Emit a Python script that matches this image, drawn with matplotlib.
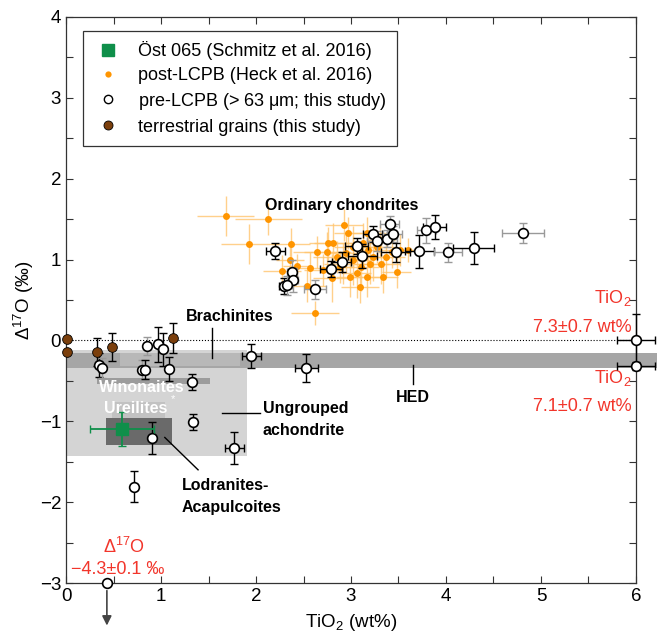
import matplotlib
matplotlib.use('Agg')
import matplotlib.pyplot as plt
from matplotlib.patches import Rectangle
from matplotlib.lines import Line2D

plt.rcParams['font.family'] = ['Liberation Sans', 'DejaVu Sans']
plt.rcParams['mathtext.default'] = 'regular'

# --- data ---
ost_x, ost_y, ost_xerr, ost_yerr = 0.59, -1.09, 0.34, 0.21

terr_x = [0.01, 0.01, 0.33, 0.48, 1.13]
terr_y = [0.02, -0.14, -0.14, -0.08, 0.03]
terr_yerr = [0.0, 0.0, 0.17, 0.17, 0.18]

post_x = [1.68, 2.13, 1.93, 2.37, 2.36, 2.27, 2.43, 2.54, 2.64, 2.57, 2.62, 2.70, 2.76,
          2.93, 2.97, 2.81, 2.75, 2.80, 2.88, 2.95, 3.02, 3.06, 3.09, 3.17, 3.20, 3.23,
          3.34, 3.32, 3.37, 3.48, 3.52, 3.60, 3.13, 3.18, 3.27, 3.10, 2.99, 2.92, 3.31,
          3.17, 2.85, 3.43, 3.02]
post_y = [1.54, 1.50, 1.19, 1.19, 0.99, 0.86, 0.92, 0.67, 1.09, 0.89, 0.34, 0.87, 1.20,
          1.43, 1.33, 1.20, 1.09, 0.77, 0.91, 1.08, 0.99, 0.83, 0.66, 0.79, 0.95, 1.03,
          0.79, 0.95, 1.03, 0.85, 1.12, 1.12, 1.20, 1.12, 1.16, 0.91, 0.79, 0.95, 1.24,
          1.33, 1.03, 1.09, 1.16]
post_xerr = [0.3, 0.35, 0.3, 0.2, 0.15, 0.2, 0.15, 0.2, 0.25, 0.2, 0.25, 0.2, 0.2,
             0.2, 0.15, 0.2, 0.25, 0.2, 0.15, 0.2, 0.2, 0.15, 0.2, 0.15, 0.2, 0.2,
             0.15, 0.2, 0.2, 0.15, 0.2, 0.15, 0.2, 0.15, 0.2, 0.2, 0.15, 0.2, 0.15,
             0.2, 0.25, 0.15, 0.2]
post_yerr = [0.25, 0.2, 0.25, 0.2, 0.2, 0.2, 0.15, 0.2, 0.2, 0.2, 0.15, 0.2, 0.2,
             0.2, 0.2, 0.25, 0.25, 0.3, 0.2, 0.25, 0.3, 0.3, 0.2, 0.25, 0.25, 0.3,
             0.2, 0.25, 0.25, 0.2, 0.2, 0.15, 0.25, 0.2, 0.2, 0.3, 0.25, 0.25, 0.2,
             0.2, 0.2, 0.2, 0.25]

pre_x = [0.85, 0.97, 1.02, 0.35, 0.38, 0.80, 0.83, 1.08, 1.95, 2.53, 1.33, 1.34, 0.91,
         1.77, 0.72, 6.00, 6.00,
         2.20, 2.38, 2.39, 2.29, 2.33, 2.62, 2.79, 2.90, 3.06, 3.12, 3.23, 3.27, 3.38,
         3.44, 3.41, 3.47, 3.72, 3.79, 3.88, 4.02, 4.29, 4.81]
pre_y = [-0.07, -0.05, -0.11, -0.30, -0.34, -0.36, -0.36, -0.35, -0.19, -0.34, -0.51,
         -1.01, -1.21, -1.33, -1.81, 0.00, -0.32,
         1.11, 0.85, 0.75, 0.67, 0.68, 0.63, 0.88, 0.97, 1.17, 1.04, 1.32, 1.23, 1.26,
         1.32, 1.44, 1.09, 1.10, 1.36, 1.40, 1.09, 1.14, 1.33]
pre_xerr = [0.03, 0.03, 0.03, 0.03, 0.03, 0.03, 0.03, 0.03, 0.10, 0.12, 0.03, 0.03, 0.03,
            0.10, 0.03, 0.20, 0.20,
            0.10, 0.05, 0.05, 0.05, 0.05, 0.12, 0.12, 0.10, 0.12, 0.15, 0.10, 0.10, 0.10,
            0.10, 0.10, 0.15, 0.15, 0.10, 0.12, 0.15, 0.22, 0.22]
pre_yerr = [0.11, 0.22, 0.20, 0.15, 0.12, 0.12, 0.12, 0.15, 0.15, 0.17, 0.10, 0.10, 0.20,
            0.20, 0.19, 0.33, 0.05,
            0.10, 0.15, 0.15, 0.10, 0.12, 0.12, 0.10, 0.12, 0.10, 0.15, 0.10, 0.12, 0.10,
            0.10, 0.10, 0.12, 0.20, 0.15, 0.15, 0.12, 0.20, 0.12]
pre_ecol = ['#999999', 'k', 'k', 'k', '#999999', '#999999', 'k', 'k', 'k', 'k', 'k', 'k', 'k',
            'k', 'k', 'k', 'k',
            'k', '#999999', '#999999', 'k', '#999999', '#999999', 'k', 'k', 'k', 'k', 'k',
            '#999999', '#999999', '#999999', '#999999', 'k', 'k', '#999999', 'k', '#999999',
            'k', '#999999']

low_x, low_y = 0.43, -3.0   # -4.3 permil, off scale

# group fields: (x0, x1, y0, y1, colour)
hed_box = (0.0, 6.22, -0.16, -0.34, '#a6a6a6')
ungrouped_box = (0.0, 1.9, -0.12, -1.43, '#d4d4d4')
brachinite_box = (0.57, 1.83, -0.15, -0.31, '#b8b8b8')
winonaite_box = (0.33, 1.52, -0.47, -0.54, '#9c9c9c')
ureilite_box = (0.48, 1.04, -0.76, -0.98, '#c2c2c2')
lodranite_box = (0.42, 1.12, -0.96, -1.29, '#6a6a6a')

red = '#f2352b'
orange = '#ff9500'

fig = plt.figure(figsize=(6.57, 6.39), dpi=100)
ax = fig.add_axes([0.1005, 0.0876, 0.8675, 0.8858])


def box(b, z, clip=True):
    x0, x1, y0, y1, c = b
    ax.add_patch(Rectangle((x0, min(y0, y1)), x1 - x0, abs(y1 - y0), facecolor=c,
                           edgecolor='none', zorder=z, clip_on=clip))


box(ungrouped_box, 1)
box(hed_box, 1.2, clip=False)
box(brachinite_box, 1.3)
box(winonaite_box, 1.4)
box(ureilite_box, 1.4)
box(lodranite_box, 1.5)

ax.axhline(0, color='k', ls=':', lw=0.8, zorder=2)

# post-LCPB
ax.errorbar(post_x, post_y, xerr=post_xerr, yerr=post_yerr, fmt='none',
            ecolor='#ffc56e', elinewidth=1.0, alpha=0.8, zorder=3)
ax.plot(post_x, post_y, 'o', color=orange, ms=5, mec='none', zorder=4)

# pre-LCPB
for x, y, xe, ye, c in zip(pre_x, pre_y, pre_xerr, pre_yerr, pre_ecol):
    ax.errorbar(x, y, xerr=xe, yerr=ye, fmt='none', ecolor=c, elinewidth=1.0,
                capsize=3, zorder=5, clip_on=False)
ax.plot(pre_x, pre_y, 'o', mfc='white', mec='k', mew=1.2, ms=7, zorder=6, clip_on=False)

# terrestrial
ax.errorbar(terr_x, terr_y, yerr=terr_yerr, fmt='none', ecolor='k', elinewidth=1.0,
            capsize=3, zorder=5)
ax.plot(terr_x, terr_y, 'o', mfc='#7b3f0c', mec='k', mew=0.6, ms=7, zorder=6, clip_on=False)

# Ost 065
ax.errorbar(ost_x, ost_y, xerr=ost_xerr, yerr=ost_yerr, fmt='none', ecolor='#0f8f4a',
            elinewidth=1.3, capsize=3, zorder=6)
ax.plot(ost_x, ost_y, 's', color='#0f8f4a', ms=9, zorder=7)

# off-scale point with arrow
ax.plot(low_x, low_y, 'o', mfc='white', mec='k', mew=1.2, ms=7, zorder=8, clip_on=False)
ax.annotate('', xy=(low_x, -3.56), xytext=(low_x, -3.06),
            arrowprops=dict(arrowstyle='-|>', color='#444444', lw=1.2, mutation_scale=14),
            annotation_clip=False)

# labels of fields
bold = dict(fontsize=11.5, fontweight='bold', color='k')
ax.text(2.9, 1.67, 'Ordinary chondrites', ha='center', va='center', **bold)
ax.text(1.72, 0.30, 'Brachinites', ha='center', va='center', **bold)
ax.plot([1.54, 1.54], [0.15, -0.22], color='k', lw=1, zorder=3)
ax.text(3.65, -0.70, 'HED', ha='center', va='center', **bold)
ax.plot([3.65, 3.65], [-0.30, -0.54], color='k', lw=1, zorder=3)
ax.text(2.07, -0.84, 'Ungrouped', ha='left', va='center', **bold)
ax.text(2.07, -1.11, 'achondrite', ha='left', va='center', **bold)
ax.plot([1.64, 2.04], [-0.90, -0.90], color='k', lw=1, zorder=3)
ax.text(1.22, -1.80, 'Lodranites-', ha='left', va='center', **bold)
ax.text(1.22, -2.07, 'Acapulcoites', ha='left', va='center', **bold)
ax.plot([1.04, 1.39], [-1.20, -1.60], color='k', lw=1, zorder=3)
ax.text(0.80, -0.58, 'Winonaites', ha='center', va='center', fontsize=11.5,
        fontweight='bold', color='white', zorder=8)
ax.text(0.73, -0.84, 'Ureilites', ha='center', va='center', fontsize=11.5,
        fontweight='bold', color='white', zorder=8)
ax.text(1.13, -0.73, '*', ha='center', va='center', fontsize=8, color='white', zorder=8)

# red notes
ax.text(5.95, 0.52, 'TiO$_2$', ha='right', va='center', fontsize=13, color=red)
ax.text(5.95, 0.16, '7.3±0.7 wt%', ha='right', va='center', fontsize=13, color=red)
ax.text(5.95, -0.46, 'TiO$_2$', ha='right', va='center', fontsize=13, color=red)
ax.text(5.95, -0.82, '7.1±0.7 wt%', ha='right', va='center', fontsize=13, color=red)
ax.text(0.61, -2.56, 'Δ$^{17}$O', ha='center', va='center', fontsize=13, color=red)
ax.text(0.54, -2.83, '−4.3±0.1 ‰', ha='center', va='center', fontsize=13, color=red)

ax.set_xlim(0, 6)
ax.set_ylim(-3, 4)
ax.set_xticks(range(0, 7))
ax.set_yticks(range(-3, 5))
ax.set_xticks([i + 0.5 for i in range(6)], minor=True)
ax.set_yticks([i + 0.5 for i in range(-3, 4)], minor=True)
ax.tick_params(which='both', direction='in', top=True, right=True, labelsize=13.5,
               color='#333333', width=0.8)
ax.tick_params(which='major', length=5)
ax.tick_params(which='minor', length=5)
for s in ax.spines.values():
    s.set_linewidth(0.9)
    s.set_color('#333333')
ax.set_xlabel('TiO$_2$ (wt%)', fontsize=13.5, labelpad=5)
ax.set_ylabel('Δ$^{17}$O (‰)', fontsize=13.5, labelpad=3)

handles = [
    Line2D([], [], ls='none', marker='s', color='#0f8f4a', ms=8),
    Line2D([], [], ls='none', marker='o', color=orange, mec='none', ms=4.5),
    Line2D([], [], ls='none', marker='o', mfc='white', mec='k', mew=1.0, ms=6),
    Line2D([], [], ls='none', marker='o', mfc='#7b3f0c', mec='k', mew=0.6, ms=6.5),
]
labels = ['Öst 065 (Schmitz et al. 2016)', 'post-LCPB (Heck et al. 2016)',
          'pre-LCPB (> 63 $\\mu$m; this study)', 'terrestrial grains (this study)']
leg = ax.legend(handles, labels, loc='upper left', bbox_to_anchor=(0.03, 0.975),
                borderaxespad=0, fontsize=13, frameon=True, fancybox=False,
                borderpad=0.55, labelspacing=0.38, handletextpad=0.9, handlelength=1.6)
leg.get_frame().set_edgecolor('k')
leg.get_frame().set_linewidth(0.9)
leg.set_zorder(10)

fig.savefig('out.png', dpi=100)
